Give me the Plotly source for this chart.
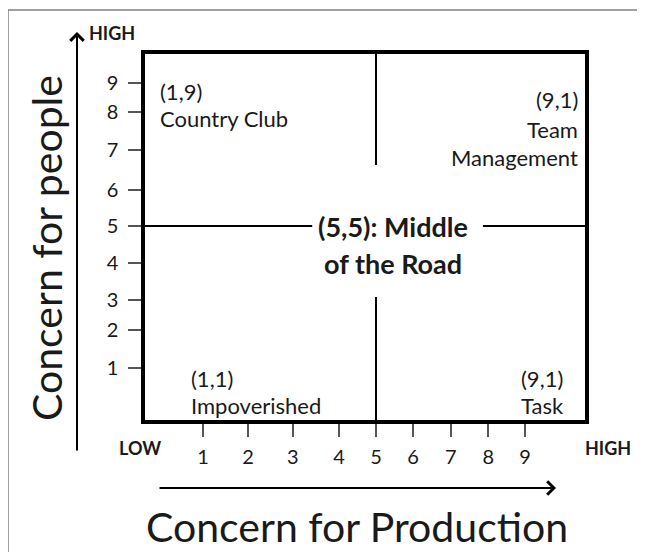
import plotly.graph_objects as go

# ---------------- data ----------------
x_tick_labels = ["1", "2", "3", "4", "5", "6", "7", "8", "9"]
y_tick_labels = ["1", "2", "3", "4", "5", "6", "7", "8", "9"]
quadrant_top_left = ["(1,9)", "Country Club"]
quadrant_top_right = ["(9,1)", "Team", "Management"]
quadrant_bottom_left = ["(1,1)", "Impoverished"]
quadrant_bottom_right = ["(9,1)", "Task"]
center_label = ["(5,5): Middle", "of the Road"]
x_title = "Concern for Production"
y_title = "Concern for people"
low_label = "LOW"
high_label = "HIGH"

# ---------------- layout constants (hand-drawn grid positions, in axis units 0..10) ----------------
x_tick_at = [1.32, 2.34, 3.36, 4.41, 5.25, 6.09, 6.95, 7.80, 8.64]
y_tick_at = [1.42, 2.46, 3.28, 4.29, 5.30, 6.28, 7.38, 8.42, 9.21]

OFF = 8  # page body margin added by the browser
W, H = 645, 552
L, R, T, B = 145, 585, 54, 420  # plot box in page pixels


def px(xp):
    return (xp - L) / (R - L)


def py(yp):
    return (B - yp) / (B - T)


FONT = "Lato"
INK = "#1a1a1a"

fig = go.Figure()

# divider lines through the (5,5) point
x5 = x_tick_at[x_tick_labels.index("5")]
y5 = y_tick_at[y_tick_labels.index("5")]
fig.add_trace(go.Scatter(
    x=[0, 3.8, None, 7.68, 10],
    y=[y5, y5, None, y5, y5],
    mode="lines", line=dict(color="black", width=2), hoverinfo="skip",
))
fig.add_trace(go.Scatter(
    x=[x5, x5, None, x5, x5],
    y=[10, 6.97, None, 3.36, 0],
    mode="lines", line=dict(color="black", width=2), hoverinfo="skip",
))

ann = []


def text(s, x, y, size, xanchor="left", bold=False, yanchor="middle"):
    ann.append(dict(
        text=f"<b>{s}</b>" if bold else s,
        x=px(x), y=py(y), xref="paper", yref="paper",
        xanchor=xanchor, yanchor=yanchor, showarrow=False,
        font=dict(family=FONT, size=size, color=INK),
    ))


QS = 22
# quadrant labels
text(quadrant_top_left[0], 158, 91, QS)
text(quadrant_top_left[1], 158, 118, QS)
text(quadrant_top_right[0], 580, 99, QS, xanchor="right")
text(quadrant_top_right[1], 580, 129, QS, xanchor="right")
text(quadrant_top_right[2], 580, 157, QS, xanchor="right")
text(quadrant_bottom_left[0], 189, 378, QS)
text(quadrant_bottom_left[1], 189, 405, QS)
text(quadrant_bottom_right[0], 519, 378, QS)
text(quadrant_bottom_right[1], 519, 405, QS)

# center label
text(center_label[0], 393, 226, 27, xanchor="center", bold=True)
text(center_label[1], 393, 263, 27, xanchor="center", bold=True)

# LOW / HIGH
text(high_label, 87, 33, 18, bold=True)
text(low_label, 117, 448, 18, bold=True)
text(high_label, 583, 448, 18, bold=True)

# axis titles
ann.append(dict(
    text=x_title, x=px(357), y=py(526), xref="paper", yref="paper",
    xanchor="center", yanchor="middle", showarrow=False,
    font=dict(family=FONT, size=41, color=INK),
))
ann.append(dict(
    text=y_title, x=px(47), y=py(248), xref="paper", yref="paper",
    xanchor="center", yanchor="middle", showarrow=False, textangle=-90,
    font=dict(family=FONT, size=41, color=INK),
))

# arrows
ann.append(dict(
    text="", x=px(77), y=py(32), xref="paper", yref="paper",
    showarrow=True, ax=0, ay=452 - 32, arrowhead=4, arrowsize=1.3,
    arrowwidth=2, arrowcolor="black",
))
ann.append(dict(
    text="", x=px(556), y=py(488), xref="paper", yref="paper",
    showarrow=True, ax=-(556 - 158), ay=0, arrowhead=4, arrowsize=1.3,
    arrowwidth=2, arrowcolor="black",
))

axis_common = dict(
    range=[0, 10], showgrid=False, zeroline=False,
    showline=True, mirror=True, linecolor="black", linewidth=3.5,
    ticks="outside", ticklen=13, tickwidth=1.5, tickcolor="#555",
    tickfont=dict(family=FONT, size=20, color=INK),
    fixedrange=True,
)

border = dict(color="#808080", width=1.5)
fig.update_layout(
    width=W, height=H,
    margin=dict(l=L - OFF, r=(W + OFF) - R, t=T - OFF, b=(H + OFF) - B),
    paper_bgcolor="white", plot_bgcolor="white",
    showlegend=False,
    xaxis=dict(tickvals=x_tick_at, ticktext=x_tick_labels, ticklabelstandoff=3, **axis_common),
    yaxis=dict(tickvals=y_tick_at, ticktext=y_tick_labels, ticklabelstandoff=6, **axis_common),
    annotations=ann,
    shapes=[
        dict(type="line", xref="paper", yref="paper",
             x0=px(8), x1=px(700), y0=py(10), y1=py(10), line=border, layer="below"),
        dict(type="line", xref="paper", yref="paper",
             x0=px(8), x1=px(8), y0=py(10), y1=py(620), line=border, layer="below"),
    ],
)

fig.write_html("out.html")
